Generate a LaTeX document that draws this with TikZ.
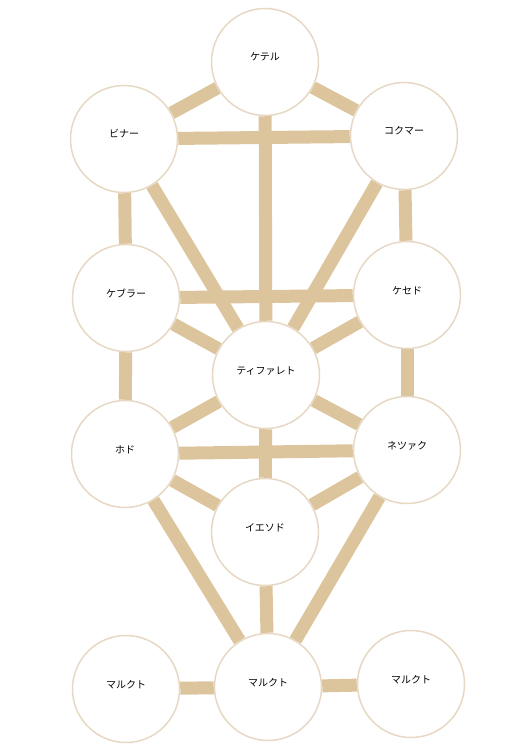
\documentclass[tikz,border=0pt]{standalone}
\usepackage{fontspec}
\newfontfamily\jp{Noto Sans CJK JP}
\usetikzlibrary{backgrounds}
\definecolor{ringc}{RGB}{230,216,195}
\definecolor{pathc}{RGB}{220,196,156}
\tikzset{
  sephira/.style={circle, draw=ringc, line width=1.5pt, fill=white,
    minimum size=107pt, inner sep=0pt, font=\jp\fontsize{10}{12}\selectfont,
    text height=8pt, text depth=10pt},
  tpath/.style={draw=pathc, line width=13pt}
}
\begin{document}
\begin{tikzpicture}[x=1pt, y=-1pt]
  \useasboundingbox (0, 0) rectangle (530, 749);

  \node[sephira] (keter)     at (265, 62)  {ケテル};
  \node[sephira] (binah)     at (124, 139) {ビナー};
  \node[sephira] (chokmah)   at (404, 136) {コクマー};
  \node[sephira] (geburah)   at (126, 298) {ケブラー};
  \node[sephira] (chesed)    at (407, 295) {ケセド};
  \node[sephira] (tiphareth) at (266, 375) {ティファレト};
  \node[sephira] (hod)       at (125, 454) {ホド};
  \node[sephira] (netzach)   at (407, 450) {ネツァク};
  \node[sephira] (yesod)     at (265, 532) {イエソド};
  \node[sephira] (malkuthL)  at (126, 689) {マルクト};
  \node[sephira] (malkuth)   at (268, 687) {マルクト};
  \node[sephira] (malkuthR)  at (411, 684) {マルクト};

  \begin{scope}[on background layer]
    \draw[tpath] (keter) -- (binah);
    \draw[tpath] (keter) -- (chokmah);
    \draw[tpath] (keter) -- (tiphareth);
    \draw[tpath] (binah) -- (chokmah);

    \draw[tpath] (binah) -- (geburah);
    \draw[tpath] (binah) -- (tiphareth);
    \draw[tpath] (chokmah) -- (chesed);
    \draw[tpath] (chokmah) -- (tiphareth);

    \draw[tpath] (geburah) -- (chesed);
    \draw[tpath] (geburah) -- (tiphareth);
    \draw[tpath] (chesed) -- (tiphareth);

    \draw[tpath] (geburah) -- (hod);
    \draw[tpath] (chesed) -- (netzach);
    \draw[tpath] (tiphareth) -- (hod);
    \draw[tpath] (tiphareth) -- (netzach);
    \draw[tpath] (hod) -- (netzach);

    \draw[tpath] (tiphareth) -- (yesod);
    \draw[tpath] (hod) -- (yesod);
    \draw[tpath] (netzach) -- (yesod);

    \draw[tpath] (hod) -- (malkuth);
    \draw[tpath] (netzach) -- (malkuth);
    \draw[tpath] (yesod) -- (malkuth);
    \draw[tpath] (malkuthL) -- (malkuth);
    \draw[tpath] (malkuth) -- (malkuthR);
  \end{scope}
\end{tikzpicture}
\end{document}
